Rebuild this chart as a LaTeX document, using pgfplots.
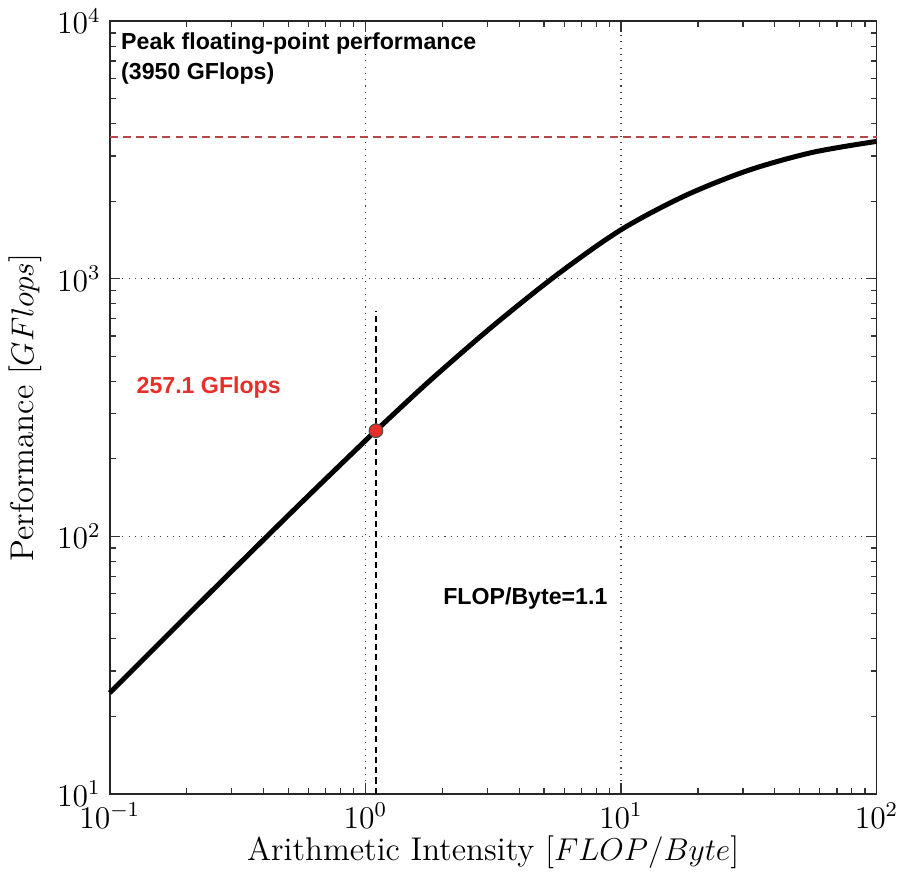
\documentclass[border=0pt]{standalone}
\usepackage{pgfplots}
\pgfplotsset{compat=1.18}
\usepackage{fontspec}
\newfontfamily\annot{Liberation Sans}

\definecolor{peakred}{RGB}{185,70,70}
\definecolor{dotred}{RGB}{232,46,40}

\begin{document}
\begin{tikzpicture}
\begin{axis}[
  xmode=log, ymode=log,
  scale only axis,
  width=291.4pt, height=293.6pt,
  xmin=0.1, xmax=100, ymin=10, ymax=10000,
  xtick={0.1,1,10,100}, ytick={10,100,1000,10000},
  grid=major,
  major grid style={dotted, line width=0.55pt, black!75},
  axis line style={line width=0.6pt, black!85},
  major tick length=4pt, minor tick length=2.2pt,
  every tick/.style={black!80, line width=0.5pt},
  tick label style={font=\fontsize{11.5}{11.5}\selectfont},
  label style={font=\fontsize{12.5}{12.5}\selectfont},
  xlabel={Arithmetic Intensity [$FLOP/Byte$]},
  ylabel={Performance [$GFlops$]},
  xlabel style={yshift=4pt},
  ylabel style={yshift=-1pt},
  clip=false,
]
% compute ceiling
\addplot[peakred, densely dashed, dash pattern=on 3pt off 2pt, line width=0.7pt]
  coordinates {(0.1,3540) (100,3540)};

% attainable performance
\addplot[black, line width=1.9pt, smooth, tension=0.5] coordinates {
  (0.1,24.66) (0.1778,43.67) (0.3162,77.09) (0.5623,135.3) (1,235.2)
  (1.1,257.1) (1.778,400) (3.162,657) (5.623,1037) (10,1550)
  (17.78,2100) (31.62,2640) (56.23,3097) (100,3416)
};

% operating intensity
\addplot[black, dash pattern=on 2.3pt off 1.6pt, line width=0.6pt]
  coordinates {(1.1,10) (1.1,750)};
\addplot[only marks, mark=*, mark size=2.6pt,
  mark options={fill=dotred, draw=black!70, line width=0.4pt}]
  coordinates {(1.1,257.1)};

\node[anchor=north west, inner sep=0pt, align=left,
      font=\annot\bfseries\fontsize{8.8}{11.6}\selectfont]
  at (rel axis cs:0.0142,0.986)
  {Peak floating-point performance\\(3950 GFlops)};
\node[inner sep=0pt, text=dotred, font=\annot\bfseries\fontsize{8.8}{10}\selectfont]
  at (rel axis cs:0.129,0.526) {257.1 GFlops};
\node[inner sep=0pt, font=\annot\bfseries\fontsize{8.8}{10}\selectfont]
  at (rel axis cs:0.542,0.253) {FLOP/Byte=1.1};
\end{axis}
\end{tikzpicture}
\end{document}
